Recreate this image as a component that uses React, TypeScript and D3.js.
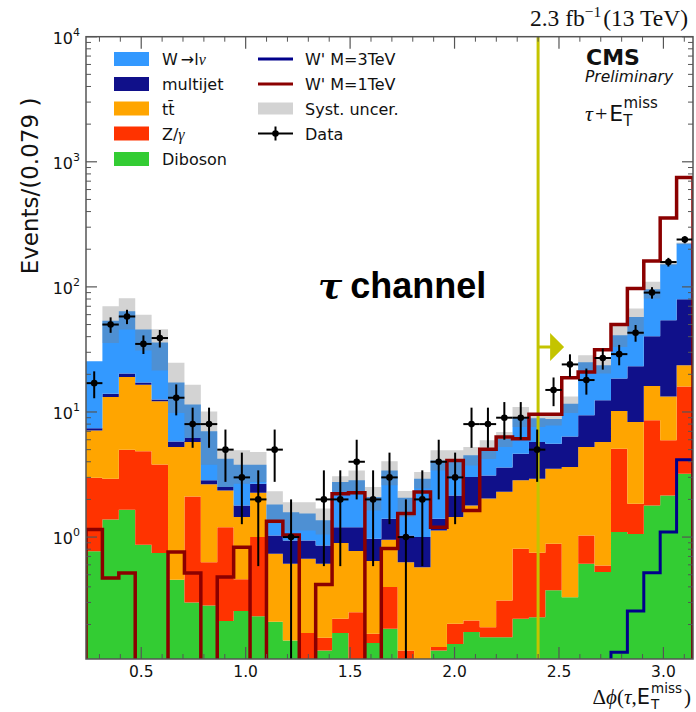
import React from "react";
import * as d3 from "d3";

// ---- binning: 37 bins of width pi/40 from 3pi/40 to pi ----
const BIN_WIDTH = Math.PI / 40;
const X_MIN = (3 * Math.PI) / 40;
const X_MAX = Math.PI;
const CUT = 2.4;

// ---- stacked backgrounds (events per bin) ----
const diboson = [0.77, 1.38, 1.65, 0.87, 0.745, 0.456, 0.3, 0.284, 0.213, 0.256, 0.233, 0.21, 0.149, 0.05, 0.124, 0.171, 0.08, 0.142, 0.185, 0.08, 0.05, 0.124, 0.14, 0.174, 0.158, 0.158, 0.222, 0.229, 0.375, 0.331, 0.612, 0.525, 1.1, 1.06, 1.79, 2.15, 3.21];
const zgamma = [2.21, 1.55, 3.35, 3.98, 3.065, 0, 1.81, 0.346, 0.987, 0.204, 0.767, 0, 0, 0.121, 0.033, 0.051, 0.171, 0.027, 0.213, 0.044, 0.03, 0.008, 0.063, 0.041, 0.032, 0.153, 0.584, 0.521, 0.51, 0, 0.418, 0.068, 3.99, 0.79, 6.79, 3.78, 12.79];
const ttbar = [4.12, 10.27, 14.05, 11.65, 8.39, 4.79, 3.64, 2.01, 1.16, 0.985, 1.26, 0.526, 0.463, 0.5, 0.455, 0.673, 0.522, 0.474, 0.552, 0.506, 0.495, 0.998, 1.242, 1.575, 1.84, 1.989, 2.034, 2.18, 2.635, 3.299, 4.22, 5.157, 5.11, 6.47, 7.52, 7.37, 7.6];
const multijet = [0.3, 0.8, 1.25, 0.7, 0.4, 0.57, 0.45, 0.2, 0.15, 0.345, 0.41, 0.294, 0.328, 0.269, 0.246, 0.305, 0.427, 0.327, 0.45, 0.4, 0.425, 0.27, 0.705, 1.23, 1.08, 1.3, 1.8, 2.82, 2.06, 2.75, 4.15, 6.65, 8.3, 14.88, 24.2, 40.8, 56.1];
const wlnu = [18.0, 39.5, 43.6, 28.4, 23.4, 11.38, 5.3, 4.16, 1.72, 2.0, 1.12, 0.79, 0.64, 0.6, 0.502, 1.55, 1.64, 1.12, 2.01, 1.03, 1.93, 2.7, 1.95, 1.48, 1.83, 2.52, 4.48, 3.15, 3.22, 5.28, 15.6, 11.2, 22.5, 34.3, 55.5, 97.9, 142.3];

// ---- systematic uncertainty band (absolute edges) ----
const systLow = [25.4, 35.6, 45.6, 31, 21.5, 9.8, 6.2, 3.79, 2.51, 2.67, 2.75, 1.29, 1.13, 1.13, 1.05, 2.19, 2.22, 1.63, 2.59, 1.445, 2.44, 3.41, 3.02, 3.74, 4.2, 5.25, 7.59, 7.6, 7.8, 9.82, 21.5, 20.3, 33.1, 41, 80.7, 148, 218];
const systHigh = [25.4, 70, 81, 60, 45.9, 24.7, 16.5, 10.1, 4.94, 4.94, 4.79, 2.32, 1.9, 1.9, 1.69, 3.06, 3.41, 2.51, 4.03, 2.33, 3.31, 4.94, 4.94, 5.25, 5.93, 6.92, 10.96, 9.7, 9.5, 13.3, 28.4, 27.5, 49.4, 67.1, 110, 157, 226];

// ---- data counts ----
const dataCounts = [17, 50, 58, 35, 39, 13, 8, 8, 5, 3, 2, 5, 1, 0, 2, 2, 4, 2, 3, 1, 2, 4, 3, 8, 8, 9, 9, 5, 15, 24, 18, 27, 29, 43, 90, 158, 239];

// ---- signals ----
const wprime1TeV = [1.15, 0.47, 0.515, 0, 0, 0.76, 0.515, 0, 0.48, 0.83, 0, 1.34, 1.04, 0, 0.418, 2.22, 2.26, 0, 0.81, 1.54, 2.29, 1.2, 4.1, 1.63, 5.03, 6.3, 6.1, 9.58, 9.58, 18.8, 20.9, 31.5, 50, 97, 161, 356, 750];
const wprime3TeV = [0, 0, 0, 0, 0, 0, 0, 0, 0, 0, 0, 0, 0, 0, 0, 0, 0, 0, 0, 0, 0, 0, 0, 0, 0, 0, 0, 0, 0, 0, 0, 0, 0.12, 0.256, 0.519, 1.1, 4.15];

// ---- axis ticks ----
const xTickValues = [0.5, 1.0, 1.5, 2.0, 2.5, 3.0];
const xTickLabels = ["0.5", "1.0", "1.5", "2.0", "2.5", "3.0"];
const yTickExps = [0, 1, 2, 3, 4];

const seriesKeys = ["diboson", "zgamma", "ttbar", "multijet", "wlnu"];
const seriesColors: Record<string, string> = {
  diboson: "#33cc33",
  zgamma: "#ff3300",
  ttbar: "#ffa500",
  multijet: "#10108a",
  wlnu: "#3399ff",
};

const SANS = "DejaVu Sans";
const SERIF = "Liberation Serif";

export default function App() {
  const W = 696, H = 712;
  const left = 86, right = 693, top = 36.7, bottom = 659;
  const yMin = 0.106;
  const x = d3.scaleLinear().domain([X_MIN, X_MAX]).range([left, right]);
  const y = d3.scaleLog().domain([yMin, 1e4]).range([bottom, top]);
  const yy = (v: number) => (v > yMin * 0.2 ? y(v) : bottom + 40);

  const n = diboson.length;
  const edges = d3.range(n + 1).map((i) => X_MIN + i * BIN_WIDTH);

  const table = d3.range(n).map((i) => ({
    diboson: diboson[i],
    zgamma: zgamma[i],
    ttbar: ttbar[i],
    multijet: multijet[i],
    wlnu: wlnu[i],
  }));
  const stacked = d3.stack<any>().keys(seriesKeys)(table);

  const stepIdx = d3.range(n + 1);
  const areaFor = (lo: (i: number) => number, hi: (i: number) => number) =>
    d3
      .area<number>()
      .x((i) => x(edges[i]))
      .y0((i) => yy(lo(Math.min(i, n - 1))))
      .y1((i) => yy(hi(Math.min(i, n - 1))))
      .curve(d3.curveStepAfter)(stepIdx) as string;

  const stepLine = (vals: number[]) => {
    const pts: [number, number][] = [[edges[0], 0]];
    vals.forEach((v, i) => pts.push([edges[i], v]));
    pts.push([edges[n], vals[n - 1]]);
    pts.push([edges[n], 0]);
    return d3
      .line<[number, number]>()
      .x((d) => x(d[0]))
      .y((d) => yy(d[1]))
      .curve(d3.curveStepAfter)(pts) as string;
  };

  // ticks
  const xMinor = d3.range(3, 32).map((k) => k / 10).filter((v) => v > X_MIN && v < X_MAX && Math.abs(v * 2 - Math.round(v * 2)) > 1e-6);
  const yMinor: number[] = [];
  for (let e = -1; e <= 3; e++) for (let m = 2; m <= 9; m++) { const v = m * Math.pow(10, e); if (v > yMin && v < 1e4) yMinor.push(v); }

  const legendRows = [59, 84, 108.5, 133.5, 159];
  const leg1 = [
    { key: "wlnu", label: <><tspan>W</tspan><tspan dx="3">→</tspan><tspan>l</tspan><tspan fontStyle="italic" fontFamily={SERIF}>ν</tspan></> },
    { key: "multijet", label: <tspan>multijet</tspan> },
    { key: "ttbar", label: <tspan>t{"t\u0304"}</tspan> },
    { key: "zgamma", label: <><tspan>Z/</tspan><tspan fontStyle="italic" fontFamily={SERIF}>γ</tspan></> },
    { key: "diboson", label: <tspan>Diboson</tspan> },
  ];

  const cutX = x(CUT);
  const arrowY = 347;

  return (
    <svg width={W} height={H} style={{ position: "absolute", left: 0, top: 0, background: "#fff" }} fontFamily={SANS}>
      <defs>
        <clipPath id="plotclip">
          <rect x={left} y={top} width={right - left} height={bottom - top} />
        </clipPath>
      </defs>
      <rect x={0} y={0} width={W} height={H} fill="#fff" />
      <g clipPath="url(#plotclip)">
        {stacked.map((layer) => (
          <path
            key={layer.key}
            d={areaFor((i) => layer[i][0], (i) => layer[i][1])}
            fill={seriesColors[layer.key]}
          />
        ))}
        <path d={areaFor((i) => systLow[i], (i) => systHigh[i])} fill="rgb(128,128,128)" fillOpacity={0.35} />
        {/* cut line */}
        <line x1={cutX} x2={cutX} y1={top} y2={bottom} stroke="#c4c400" strokeWidth={3} />
        <line x1={cutX} x2={cutX + 14} y1={arrowY} y2={arrowY} stroke="#c4c400" strokeWidth={3} />
        <path d={`M${cutX + 12},${arrowY - 14} L${cutX + 26},${arrowY} L${cutX + 12},${arrowY + 14} Z`} fill="#c4c400" />
        {/* signals */}
        <path d={stepLine(wprime3TeV)} fill="none" stroke="#00008b" strokeWidth={3} />
        <path d={stepLine(wprime1TeV)} fill="none" stroke="#8b0000" strokeWidth={3.5} />
        {/* data */}
        {dataCounts.map((c, i) => {
          if (c <= 0) return null;
          const cx = x((edges[i] + edges[i + 1]) / 2);
          const err = Math.sqrt(c);
          return (
            <g key={i}>
              <line x1={x(edges[i])} x2={x(edges[i + 1])} y1={y(c)} y2={y(c)} stroke="#000" strokeWidth={2} />
              <line x1={cx} x2={cx} y1={y(c + err)} y2={yy(c - err)} stroke="#000" strokeWidth={2} />
              <circle cx={cx} cy={y(c)} r={3.3} fill="#000" />
            </g>
          );
        })}
      </g>

      {/* frame */}
      <rect x={left} y={top} width={right - left} height={bottom - top} fill="none" stroke="#555" strokeWidth={1.5} />
      {/* x ticks */}
      {xTickValues.map((v, i) => (
        <g key={"xt" + i}>
          <line x1={x(v)} x2={x(v)} y1={bottom} y2={bottom - 12} stroke="#555" strokeWidth={1.2} />
          <line x1={x(v)} x2={x(v)} y1={top} y2={top + 12} stroke="#555" strokeWidth={1.2} />
          <text x={x(v)} y={677} textAnchor="middle" fontSize={15.5} fill="#111">{xTickLabels[i]}</text>
        </g>
      ))}
      {xMinor.map((v, i) => (
        <g key={"xm" + i}>
          <line x1={x(v)} x2={x(v)} y1={bottom} y2={bottom - 5} stroke="#555" strokeWidth={1} />
          <line x1={x(v)} x2={x(v)} y1={top} y2={top + 5} stroke="#555" strokeWidth={1} />
        </g>
      ))}
      {/* y ticks */}
      {yTickExps.map((e) => {
        const v = Math.pow(10, e);
        return (
          <g key={"yt" + e}>
            <line x1={left} x2={left + 11} y1={y(v)} y2={y(v)} stroke="#555" strokeWidth={1.2} />
            <line x1={right} x2={right - 11} y1={y(v)} y2={y(v)} stroke="#555" strokeWidth={1.2} />
            <text x={80} y={y(v) + 7} textAnchor="end" fontSize={16} fill="#111">
              10<tspan dy={-8} fontSize={11}>{e}</tspan>
            </text>
          </g>
        );
      })}
      {yMinor.map((v, i) => (
        <g key={"ym" + i}>
          <line x1={left} x2={left + 5} y1={y(v)} y2={y(v)} stroke="#555" strokeWidth={1} />
          <line x1={right} x2={right - 5} y1={y(v)} y2={y(v)} stroke="#555" strokeWidth={1} />
        </g>
      ))}

      {/* axis titles */}
      <text transform="translate(38,186) rotate(-90)" textAnchor="middle" fontSize={23} fill="#111">Events/(0.079 )</text>
      <text x={650} y={704} textAnchor="end" fontSize={21} fill="#111">
        <tspan fontFamily={SERIF}>Δ</tspan>
        <tspan fontFamily={SERIF} fontStyle="italic">ϕ</tspan>
        <tspan fontFamily={SERIF}>(</tspan>
        <tspan fontFamily={SERIF} fontStyle="italic">τ</tspan>
        <tspan fontFamily={SERIF}>,</tspan>
        <tspan>E</tspan>
      </text>
      <text x={651} y={693} fontSize={13.5} fill="#111">miss</text>
      <text x={651} y={709} fontSize={13.5} fill="#111">T</text>
      <text x={691} y={704} textAnchor="end" fontSize={21} fontFamily={SERIF} fill="#111">)</text>

      {/* top label */}
      <text x={688} y={26} textAnchor="end" fontSize={23.5} fontFamily={SERIF} fill="#111">
        2.3 fb<tspan dy={-9} fontSize={15.5}>−1</tspan><tspan dy={9} dx={2}>(13 TeV)</tspan>
      </text>

      {/* CMS labels */}
      <text x={586} y={65} fontSize={22} fontWeight="bold" fill="#111">CMS</text>
      <text x={585} y={82} fontSize={15.5} fontStyle="italic" fill="#111">Preliminary</text>
      <text x={585} y={121} fontSize={22} fill="#111">
        <tspan fontFamily={SERIF} fontStyle="italic">τ</tspan>
        <tspan fontFamily={SERIF} dx={2}>+</tspan>
        <tspan dx={2}>E</tspan>
        <tspan dy={5} fontSize={15}>T</tspan>
        <tspan dx={-9} dy={-18} fontSize={15}>miss</tspan>
      </text>

      {/* channel */}
      <text x={318} y={298} fontSize={36} fontWeight="bold" fill="#000">
        <tspan fontFamily="DejaVu Serif" fontStyle="italic">τ</tspan>
        <tspan dx={8} fontFamily="Liberation Sans">channel</tspan>
      </text>

      {/* legend col 1 */}
      {leg1.map((e, i) => (
        <g key={"l1" + i}>
          <rect x={114} y={legendRows[i] - 7} width={35} height={14} fill={seriesColors[e.key]} />
          <text x={162} y={legendRows[i] + 6} fontSize={16} fill="#111">{e.label}</text>
        </g>
      ))}
      {/* legend col 2 */}
      <line x1={258} x2={293} y1={legendRows[0]} y2={legendRows[0]} stroke="#00008b" strokeWidth={3} />
      <text x={305} y={legendRows[0] + 6} fontSize={16} fill="#111">W' M=3TeV</text>
      <line x1={258} x2={293} y1={legendRows[1]} y2={legendRows[1]} stroke="#8b0000" strokeWidth={3} />
      <text x={305} y={legendRows[1] + 6} fontSize={16} fill="#111">W' M=1TeV</text>
      <rect x={258} y={legendRows[2] - 6} width={35} height={12} fill="#d3d3d3" />
      <text x={305} y={legendRows[2] + 6} fontSize={16} fill="#111">Syst. uncer.</text>
      <line x1={258} x2={293} y1={legendRows[3]} y2={legendRows[3]} stroke="#000" strokeWidth={2} />
      <line x1={275.5} x2={275.5} y1={legendRows[3] - 7} y2={legendRows[3] + 7} stroke="#000" strokeWidth={2} />
      <circle cx={275.5} cy={legendRows[3]} r={3.3} fill="#000" />
      <text x={305} y={legendRows[3] + 6} fontSize={16} fill="#111">Data</text>
    </svg>
  );
}
